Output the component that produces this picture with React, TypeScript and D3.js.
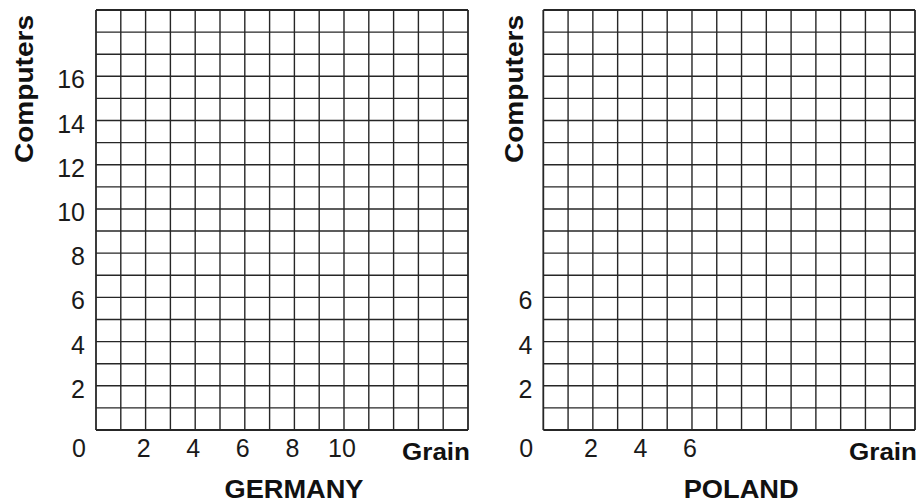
import React from "react";
import * as d3 from "d3";

const W = 917;
const H = 503;

// Grid extents (units)
const xMaxUnits = 15;
const yMaxUnits = 19;

const germanyXTicks = [2, 4, 6, 8, 10];
const germanyYTicks = [2, 4, 6, 8, 10, 12, 14, 16];
const polandXTicks = [2, 4, 6];
const polandYTicks = [2, 4, 6];

const countries = ["GERMANY", "POLAND"];
const xAxisLabel = "Grain";
const yAxisLabel = "Computers";

const FONT = "'Liberation Sans', Arial, Helvetica, sans-serif";

type PanelProps = {
  left: number;
  right: number;
  top: number;
  bottom: number;
  xTicks: number[];
  yTicks: number[];
  title: string;
  titleLen: number;
  yLabelX: number;
};

function Panel({ left, right, top, bottom, xTicks, yTicks, title, titleLen, yLabelX }: PanelProps) {
  const x = d3.scaleLinear().domain([0, xMaxUnits]).range([left, right]);
  const y = d3.scaleLinear().domain([0, yMaxUnits]).range([bottom, top]);
  const xs = d3.range(0, xMaxUnits + 1);
  const ys = d3.range(0, yMaxUnits + 1);
  const stroke = "#262626";
  return (
    <g>
      {xs.map((v) => (
        <line
          key={"v" + v}
          x1={x(v)}
          x2={x(v)}
          y1={top}
          y2={bottom}
          stroke={stroke}
          strokeWidth={v === 0 || v === xMaxUnits ? 1.8 : 1.4}
        />
      ))}
      {ys.map((v) => (
        <line
          key={"h" + v}
          x1={left}
          x2={right}
          y1={y(v)}
          y2={y(v)}
          stroke={stroke}
          strokeWidth={v === 0 || v === yMaxUnits ? 1.8 : 1.4}
        />
      ))}
      {yTicks.map((v) => (
        <text
          key={"yt" + v}
          x={left - 11}
          y={y(v) + 3}
          textAnchor="end"
          dominantBaseline="central"
          fontFamily={FONT}
          fontSize={25}
          fill="#1a1a1a"
        >
          {v}
        </text>
      ))}
      {xTicks.map((v) => (
        <text
          key={"xt" + v}
          x={x(v) - 2}
          y={457}
          textAnchor="middle"
          fontFamily={FONT}
          fontSize={25}
          fill="#1a1a1a"
        >
          {v}
        </text>
      ))}
      <text x={left - 17} y={457} textAnchor="middle" fontFamily={FONT} fontSize={25} fill="#1a1a1a">
        0
      </text>
      <text
        x={right + 2 - 68}
        y={460}
        fontFamily={FONT}
        fontSize={23}
        fontWeight="bold"
        fill="#111"
        textLength={68}
        lengthAdjust="spacingAndGlyphs"
      >
        {xAxisLabel}
      </text>
      <text
        x={(left + right) / 2 + 12 - titleLen / 2}
        y={498}
        fontFamily={FONT}
        fontSize={26}
        fontWeight="bold"
        fill="#111"
        textLength={titleLen}
        lengthAdjust="spacingAndGlyphs"
      >
        {title}
      </text>
      <text
        transform={`translate(${yLabelX},${163}) rotate(-90)`}
        fontFamily={FONT}
        fontSize={26}
        fontWeight="bold"
        fill="#111"
        textLength={148}
        lengthAdjust="spacingAndGlyphs"
      >
        {yAxisLabel}
      </text>
    </g>
  );
}

export default function App() {
  return (
    <svg
      width={W}
      height={H}
      style={{ position: "absolute", left: 0, top: 0, background: "#fff" }}
    >
      <rect x={0} y={0} width={W} height={H} fill="#fff" />
      <Panel
        left={96}
        right={468}
        top={10}
        bottom={430}
        xTicks={germanyXTicks}
        yTicks={germanyYTicks}
        title={countries[0]}
        titleLen={139}
        yLabelX={33}
      />
      <Panel
        left={543.3}
        right={915}
        top={10}
        bottom={430}
        xTicks={polandXTicks}
        yTicks={polandYTicks}
        title={countries[1]}
        titleLen={115}
        yLabelX={523}
      />
    </svg>
  );
}
